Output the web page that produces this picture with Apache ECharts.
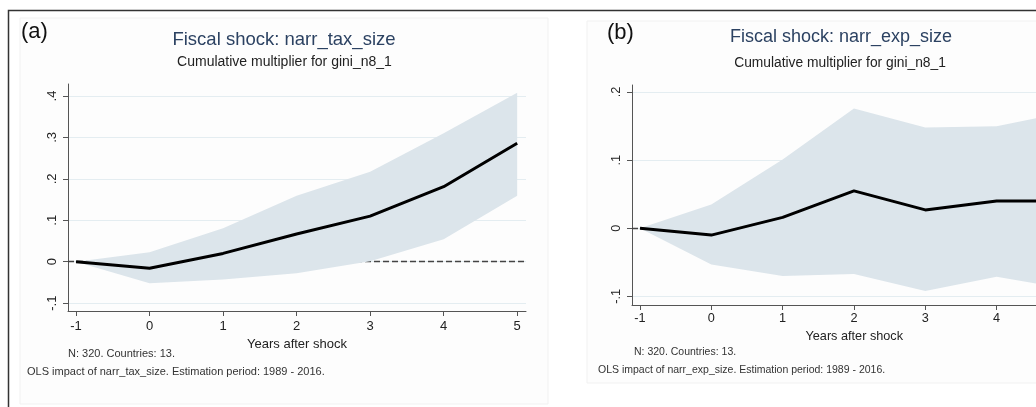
<!DOCTYPE html>
<html><head><meta charset="utf-8">
<script src="https://cdn.jsdelivr.net/npm/echarts@6/dist/echarts.min.js"></script>
<style>html,body{margin:0;padding:0;background:#fff;overflow:hidden;width:1036px;height:407px}#c{width:1090px;height:407px}</style>
</head><body><div id="c"></div>
<script>
// ---- data ----
const years = [-1, 0, 1, 2, 3, 4, 5];
const taxIrf   = [0, -0.016, 0.020, 0.067, 0.110, 0.181, 0.286];
const taxLower = [0, -0.052, -0.043, -0.028, 0.001, 0.054, 0.159];
const taxUpper = [0, 0.023, 0.081, 0.159, 0.217, 0.310, 0.408];
const expIrf   = [0, -0.010, 0.016, 0.055, 0.027, 0.040, 0.040];
const expLower = [0, -0.053, -0.070, -0.067, -0.092, -0.071, -0.089];
const expUpper = [0, 0.035, 0.101, 0.176, 0.148, 0.150, 0.171];
const xTicks = [-1, 0, 1, 2, 3, 4, 5];
const taxYTicks = [-0.1, 0, 0.1, 0.2, 0.3, 0.4];
const expYTicks = [-0.1, 0, 0.1, 0.2];

const FONT = 'Liberation Sans, Arial, sans-serif';
const BAND = '#dce5eb';
const GRIDC = '#e4edf1';
const AXC = '#555';
const TITLEC = '#2c4262';

function stataFmt(v) {
  if (Math.abs(v) < 1e-9) return '0';
  const s = String(Math.abs(+v.toFixed(4))).replace(/^0/, '');
  return (v < 0 ? '-' : '') + s;
}
function pairs(xs, ys) { return xs.map((x, i) => [x, ys[i]]); }

function xAxisFor(gi, min, max, fs, margin, gap) {
  return {
    type: 'value', gridIndex: gi, min: min, max: max,
    axisLine: { show: true, onZero: false, lineStyle: { color: AXC, width: 1 } },
    axisTick: { show: true, length: 5, lineStyle: { color: AXC }, customValues: xTicks },
    axisLabel: { customValues: xTicks, fontSize: fs, color: '#222', fontFamily: FONT, margin: margin },
    splitLine: { show: false },
    name: 'Years after shock', nameLocation: 'middle', nameGap: gap,
    nameTextStyle: { fontSize: fs, color: '#222', fontFamily: FONT }
  };
}
function yAxisFor(gi, min, max, ticks, fs) {
  return {
    type: 'value', gridIndex: gi, min: min, max: max,
    axisLine: { show: true, onZero: false, lineStyle: { color: AXC, width: 1 } },
    axisTick: { show: true, length: 5, lineStyle: { color: AXC }, customValues: ticks },
    axisLabel: { customValues: ticks, rotate: 90, fontSize: fs, color: '#222', fontFamily: FONT,
                 margin: 9, formatter: stataFmt },
    splitLine: { show: true, lineStyle: { color: GRIDC, width: 1 } }
  };
}
function panelSeries(gi, lo, up, irf) {
  return [
    { type: 'line', xAxisIndex: gi, yAxisIndex: gi,
      data: pairs(years, irf), symbol: 'none', lineStyle: { opacity: 0 }, z: 1, silent: true,
      markLine: { z: 1, symbol: 'none', silent: true, label: { show: false },
                  lineStyle: { type: [6, 3], color: '#444', width: 1.3 },
                  data: [{ yAxis: 0 }] } },
    { type: 'custom', xAxisIndex: gi, yAxisIndex: gi, z: 3, silent: true, clip: true,
      data: years.map((x, i) => [x, lo[i], up[i]]),
      encode: { x: 0, y: [1, 2] },
      renderItem: function (params, api) {
        if (params.dataIndex !== 0) return null;
        const pts = [];
        for (let i = 0; i < years.length; i++) pts.push(api.coord([years[i], lo[i]]));
        for (let i = years.length - 1; i >= 0; i--) pts.push(api.coord([years[i], up[i]]));
        return { type: 'polygon', shape: { points: pts }, style: { fill: BAND } };
      } },
    { type: 'line', xAxisIndex: gi, yAxisIndex: gi, data: pairs(years, irf), symbol: 'none',
      lineStyle: { color: '#000', width: 3 }, z: 4, silent: true }
  ];
}
function txt(x, y, s, fs, color, align) {
  return { type: 'text', x: x, y: y, silent: true,
           style: { text: s, fontSize: fs, fill: color, fontFamily: FONT,
                    align: align || 'left', verticalAlign: 'middle' } };
}

const chart = echarts.init(document.getElementById('c'), null, { renderer: 'canvas' });
chart.setOption({
  animation: false,
  backgroundColor: '#fff',
  grid: [
    { left: 68, top: 84, width: 458, height: 227 },
    { left: 632, top: 85, width: 444.5, height: 220 }
  ],
  xAxis: [
    xAxisFor(0, -1.109, 5.12, 13, 9, 22),
    xAxisFor(1, -1.112, 5.12, 12.7, 7, 21)
  ],
  yAxis: [
    yAxisFor(0, -0.119, 0.429, taxYTicks, 13),
    yAxisFor(1, -0.1126, 0.2104, expYTicks, 12.7)
  ],
  series: [].concat(
    panelSeries(0, taxLower, taxUpper, taxIrf),
    panelSeries(1, expLower, expUpper, expIrf)
  ),
  graphic: [
    { type: 'rect', shape: { x: 20, y: 18, width: 528, height: 386 }, silent: true, z: -10,
      style: { fill: '#fdfdfd', stroke: '#f1f1f1', lineWidth: 1 } },
    { type: 'rect', shape: { x: 587, y: 21, width: 500, height: 362 }, silent: true, z: -10,
      style: { fill: '#fdfdfd', stroke: '#f1f1f1', lineWidth: 1 } },
    { type: 'polyline', shape: { points: [[8.5, 408], [8.5, 10.5], [1090, 10.5]] }, silent: true,
      style: { stroke: '#333', lineWidth: 1.5, fill: null } },
    txt(21, 32, '(a)', 22, '#111'),
    txt(284, 40, 'Fiscal shock: narr_tax_size', 18.5, TITLEC, 'center'),
    txt(284.5, 62.5, 'Cumulative multiplier for gini_n8_1', 14, '#222', 'center'),
    txt(68, 354, 'N: 320. Countries: 13.', 11, '#333'),
    txt(27, 372, 'OLS impact of narr_tax_size. Estimation period: 1989 - 2016.', 11, '#333'),
    txt(607, 33, '(b)', 22, '#111'),
    txt(841, 37.5, 'Fiscal shock: narr_exp_size', 18, TITLEC, 'center'),
    txt(840, 63, 'Cumulative multiplier for gini_n8_1', 13.8, '#222', 'center'),
    txt(634, 352, 'N: 320. Countries: 13.', 10.5, '#333'),
    txt(598, 370, 'OLS impact of narr_exp_size. Estimation period: 1989 - 2016.', 10.5, '#333')
  ]
});
</script></body></html>
